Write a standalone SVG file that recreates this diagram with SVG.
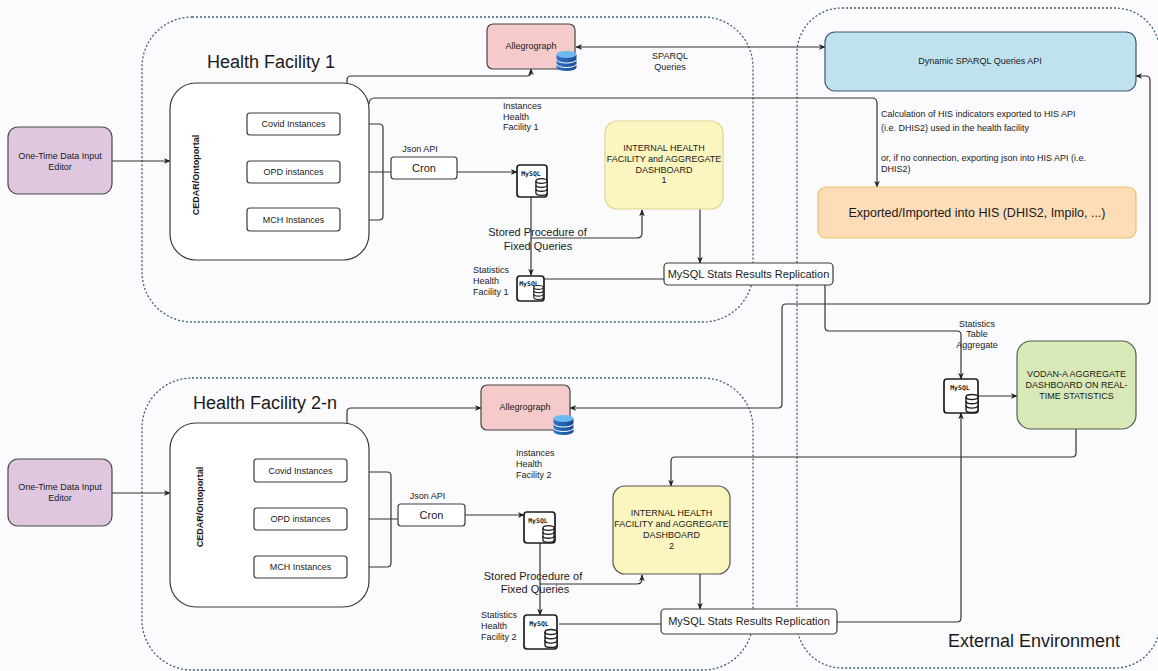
<svg xmlns="http://www.w3.org/2000/svg" xmlns:xlink="http://www.w3.org/1999/xlink" width="1158" height="671" viewBox="0 0 1158 671">
<style>
text{font-family:"Liberation Sans",Arial,Helvetica,sans-serif;fill:#1a1a1a}
.t9{font-size:9px}
.t11{font-size:11px}
.mid{text-anchor:middle}
.title{font-size:18px}
.cont{fill:none;stroke:#3f5f73;stroke-width:1.3;stroke-dasharray:2 2}
.box{fill:#fff;stroke:#3a3a3a;stroke-width:1.2}
.my{fill:#fff;stroke:#1e1e1e;stroke-width:1.7}
.myt{font-family:"DejaVu Sans Mono","Liberation Mono",monospace;font-size:6.5px;font-weight:bold;text-anchor:middle}
.edge{fill:none;stroke:#333;stroke-width:1.2}
.arr{marker-end:url(#ah)}
.bi{marker-start:url(#ah);marker-end:url(#ah)}
</style>
<defs>
<marker id="ah" viewBox="0 0 10 10" refX="9" refY="5" markerWidth="7" markerHeight="7" markerUnits="userSpaceOnUse" orient="auto-start-reverse">
<path d="M0,1 L10,5 L0,9 L3,5 Z" fill="#222"/>
</marker>
<linearGradient id="bg1" x1="0" y1="0" x2="1" y2="0">
<stop offset="0" stop-color="#2f74c6"/><stop offset="1" stop-color="#1a4a94"/>
</linearGradient>
<symbol id="db" viewBox="0 0 14 20">
<path d="M1,3.5 A6,2.5 0 0,1 13,3.5 V16.5 A6,2.5 0 0,1 1,16.5 Z" fill="#fff" stroke="#1e1e1e" stroke-width="1.4"/>
<path d="M1,3.5 A6,2.5 0 0,0 13,3.5 M1,7.8 A6,2.5 0 0,0 13,7.8 M1,12.1 A6,2.5 0 0,0 13,12.1" fill="none" stroke="#1e1e1e" stroke-width="1.4"/>
</symbol>
<symbol id="bluedb" viewBox="0 0 20 20">
<path d="M0,3.5 V16.5 A10,3.5 0 0,0 20,16.5 V3.5 Z" fill="url(#bg1)"/>
<path d="M0,8.5 A10,3.5 0 0,0 20,8.5 M0,13 A10,3.5 0 0,0 20,13" fill="none" stroke="#fff" stroke-width="1"/>
<ellipse cx="10" cy="3.5" rx="10" ry="3.5" fill="#6db8ee"/>
</symbol>
</defs>
<rect x="0" y="0" width="1158" height="671" fill="#fbfbfd"/>

<g id="containers">
<g id="hf1-container"><rect class="cont" x="142" y="17" width="611" height="305" rx="50"/><text class="title" x="207" y="68">Health Facility 1</text></g>
<g id="hf2-container"><rect class="cont" x="142" y="378" width="611" height="292" rx="50"/><text class="title" x="193" y="409">Health Facility 2-n</text></g>
<g id="ext-container"><rect class="cont" x="797" y="8" width="363" height="660" rx="45"/><text class="title" x="948" y="647">External Environment</text></g>
</g>

<g id="connectors">
<path class="edge arr" d="M112,161 H170"/>
<path class="edge" d="M340,124 H379 Q383,124 383,128 V216 Q383,220 379,220 H340"/>
<path class="edge" d="M340,172 H391"/>
<path class="edge arr" d="M457,172 H517"/>
<path class="edge arr" d="M531,197 V275"/>
<path class="edge arr" d="M531,238 H637 Q642,238 642,233 V210"/>
<path class="edge arr" d="M700,209 V263"/>
<path class="edge" d="M544,279 H664"/>
<path class="edge arr" d="M347,83 V80 Q347,76 351,76 H527 Q531,76 531,72 V69"/>
<path class="edge arr" d="M369,104 Q369,98 375,98 H872 Q877,98 877,103 V187"/>
<path class="edge bi" d="M576,47 H825"/>
<path class="edge bi" d="M570,408 H778 Q782,408 782,404 V308 Q782,304 786,304 H1146 Q1150,304 1150,300 V80 Q1150,76 1146,76 H1136"/>
<path class="edge arr" d="M825,285 V327 Q825,331 829,331 H957 Q961,331 961,335 V379"/>
<path class="edge arr" d="M978,396 H1017"/>
<path class="edge arr" d="M1076,429 V453 Q1076,457 1072,457 H675 Q671,457 671,461 V486"/>
<path class="edge arr" d="M837,622 H957 Q961,622 961,618 V413"/>
<path class="edge arr" d="M112,493 H170"/>
<path class="edge arr" d="M347,423 V412 Q347,408 351,408 H481"/>
<path class="edge" d="M347,472 H387 Q391,472 391,476 V563 Q391,567 387,567 H347"/>
<path class="edge" d="M347,519 H398"/>
<path class="edge arr" d="M465,515 H524"/>
<path class="edge arr" d="M540,543 V615"/>
<path class="edge arr" d="M540,584 H637 Q642,584 642,579 V575"/>
<path class="edge arr" d="M700,574 V609"/>
<path class="edge" d="M559,624 H661"/>
</g>

<g id="editor1"><rect x="8" y="127" width="104" height="67" rx="10" fill="#dfc7df" stroke="#4a4a4a" stroke-width="1.2"/><text class="t9 mid" x="60" y="159">One-Time Data Input</text><text class="t9 mid" x="60" y="170">Editor</text></g>
<g id="cedar1"><rect class="box" x="170" y="83" width="199" height="177" rx="26"/><text class="t9 mid" font-weight="bold" transform="translate(199,175) rotate(-90)">CEDAR/Ontoportal</text></g>
<g id="covid1"><rect class="box" x="247" y="113" width="93" height="22" rx="3"/><text class="t9 mid" x="293.5" y="127">Covid Instances</text></g>
<g id="opd1"><rect class="box" x="247" y="161" width="93" height="22" rx="3"/><text class="t9 mid" x="293.5" y="175">OPD instances</text></g>
<g id="mch1"><rect class="box" x="247" y="208" width="93" height="23" rx="3"/><text class="t9 mid" x="293.5" y="223">MCH Instances</text></g>
<g id="cron1"><rect class="box" x="391" y="157" width="66" height="22" rx="3"/><text class="t11 mid" x="424" y="172">Cron</text><text class="t9 mid" x="420" y="152">Json API</text></g>
<g id="mysql1"><rect class="my" x="517" y="165" width="30" height="32" rx="3"/><text class="myt" x="531" y="176">MySQL</text><use href="#db" x="535" y="177" width="13" height="20"/></g>
<g id="mysqlstats1"><rect class="my" x="517" y="276" width="27" height="25" rx="3"/><text class="myt" x="529" y="286">MySQL</text><use href="#db" x="533" y="284" width="11" height="17"/><text class="t9" x="473" y="273">Statistics</text><text class="t9" x="473" y="284">Health</text><text class="t9" x="473" y="295">Facility 1</text></g>
<g id="allegro1"><rect x="487" y="24" width="88" height="45" rx="6" fill="#f5caca" stroke="#444" stroke-width="1.2"/><text class="t9 mid" x="531" y="49">Allegrograph</text><use href="#bluedb" x="556" y="51" width="21" height="20"/></g>
<g id="dash1"><rect x="605" y="121" width="118" height="88" rx="12" fill="#fbf5c0" stroke="#ddd58e" stroke-width="1.2"/><text class="t9 mid" x="664" y="151">INTERNAL HEALTH</text><text class="t9 mid" x="664" y="162">FACILITY and AGGREGATE</text><text class="t9 mid" x="664" y="173">DASHBOARD</text><text class="t9 mid" x="664" y="183">1</text></g>
<g id="repl1"><rect class="box" x="664" y="263" width="169" height="22" rx="4"/><text class="t11 mid" x="748.5" y="278">MySQL Stats Results Replication</text></g>
<g id="labels1"><text class="t9" x="503" y="109">Instances</text><text class="t9" x="503" y="120">Health</text><text class="t9" x="503" y="130">Facility 1</text><text class="t9 mid" x="670" y="59">SPARQL</text><text class="t9 mid" x="670" y="70">Queries</text><text class="t11 mid" x="537.5" y="236">Stored Procedure of</text><text class="t11 mid" x="538" y="250">Fixed Queries</text></g>

<g id="editor2"><rect x="8" y="459" width="104" height="67" rx="10" fill="#dfc7df" stroke="#4a4a4a" stroke-width="1.2"/><text class="t9 mid" x="60" y="490">One-Time Data Input</text><text class="t9 mid" x="60" y="501">Editor</text></g>
<g id="cedar2"><rect class="box" x="170" y="423" width="199" height="184" rx="26"/><text class="t9 mid" font-weight="bold" transform="translate(203,507) rotate(-90)">CEDAR/Ontoportal</text></g>
<g id="covid2"><rect class="box" x="254" y="459" width="93" height="23" rx="3"/><text class="t9 mid" x="300.5" y="474">Covid Instances</text></g>
<g id="opd2"><rect class="box" x="254" y="508" width="93" height="22" rx="3"/><text class="t9 mid" x="300.5" y="522">OPD instances</text></g>
<g id="mch2"><rect class="box" x="254" y="556" width="93" height="22" rx="3"/><text class="t9 mid" x="300.5" y="570">MCH Instances</text></g>
<g id="cron2"><rect class="box" x="398" y="504" width="67" height="22" rx="3"/><text class="t11 mid" x="431.5" y="519">Cron</text><text class="t9 mid" x="427.5" y="499">Json API</text></g>
<g id="mysql2"><rect class="my" x="524" y="512" width="31" height="31" rx="3"/><text class="myt" x="538" y="523">MySQL</text><use href="#db" x="542" y="524" width="13" height="20"/></g>
<g id="mysqlstats2"><rect class="my" x="524" y="615" width="33" height="34" rx="3"/><text class="myt" x="539" y="626">MySQL</text><use href="#db" x="544" y="628" width="14" height="21"/><text class="t9" x="481" y="618">Statistics</text><text class="t9" x="481" y="629">Health</text><text class="t9" x="481" y="640">Facility 2</text></g>
<g id="allegro2"><rect x="481" y="385" width="89" height="45" rx="6" fill="#f5caca" stroke="#444" stroke-width="1.2"/><text class="t9 mid" x="525" y="410">Allegrograph</text><use href="#bluedb" x="553" y="415" width="21" height="20"/></g>
<g id="dash2"><rect x="613" y="486" width="117" height="88" rx="12" fill="#fbf5c0" stroke="#555" stroke-width="1.2"/><text class="t9 mid" x="671.5" y="516">INTERNAL HEALTH</text><text class="t9 mid" x="671.5" y="527">FACILITY and AGGREGATE</text><text class="t9 mid" x="671.5" y="538">DASHBOARD</text><text class="t9 mid" x="671.5" y="549">2</text></g>
<g id="repl2"><rect class="box" x="661" y="609" width="176" height="25" rx="4"/><text class="t11 mid" x="749" y="625">MySQL Stats Results Replication</text></g>
<g id="labels2"><text class="t9" x="516" y="456">Instances</text><text class="t9" x="516" y="467">Health</text><text class="t9" x="516" y="478">Facility 2</text><text class="t11 mid" x="533" y="580">Stored Procedure of</text><text class="t11 mid" x="535" y="593">Fixed Queries</text></g>

<g id="api"><rect x="825" y="32" width="311" height="59" rx="10" fill="#bfe2ee" stroke="#3a5868" stroke-width="1.2"/><text class="t9 mid" x="980" y="64">Dynamic SPARQL Queries API</text></g>
<g id="export"><rect x="818" y="187" width="318" height="51" rx="8" fill="#fddcb8" stroke="#e6c46a" stroke-width="1.2"/><text class="mid" font-size="12.5" x="977" y="217">Exported/Imported into HIS (DHIS2, Impilo, ...)</text></g>
<g id="export-label"><text class="t9" x="881" y="117">Calculation of HIS indicators exported to HIS API</text><text class="t9" x="881" y="131">(i.e. DHIS2) used in the health facility</text><text class="t9" x="881" y="161">or, if no connection, exporting json into HIS API (i.e.</text><text class="t9" x="881" y="172">DHIS2)</text></g>
<g id="extmysql"><rect class="my" x="944" y="379" width="34" height="34" rx="3"/><text class="myt" x="960" y="390">MySQL</text><use href="#db" x="965" y="393" width="14" height="21"/><text class="t9 mid" x="977" y="327">Statistics</text><text class="t9 mid" x="977" y="337">Table</text><text class="t9 mid" x="977" y="348">Aggregate</text></g>
<g id="vodan"><rect x="1017" y="341" width="119" height="88" rx="14" fill="#d8e8b6" stroke="#4f5f4f" stroke-width="1.2"/><text class="t9 mid" x="1076.5" y="377">VODAN-A AGGREGATE</text><text class="t9 mid" x="1076.5" y="388">DASHBOARD ON REAL-</text><text class="t9 mid" x="1076.5" y="399">TIME STATISTICS</text></g>
</svg>
